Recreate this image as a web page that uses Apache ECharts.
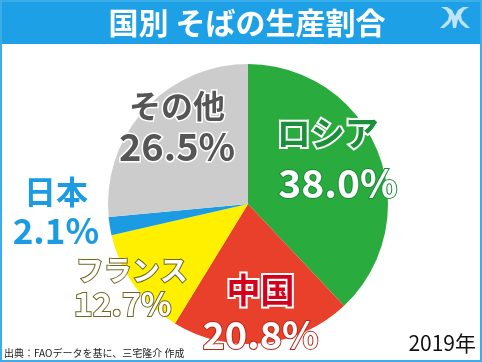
<!DOCTYPE html>
<html><head><meta charset="utf-8">
<script src="https://cdn.jsdelivr.net/npm/echarts@6/dist/echarts.min.js"></script>
<style>html,body{margin:0;padding:0;background:#fff}#c{width:482px;height:362px}</style>
</head><body><div id="c"></div>
<script>
const categories = ['ロシア', '中国', 'フランス', '日本', 'その他'];
const shares = [38.0, 20.8, 12.7, 2.1, 26.5];
const titleText = '国別 そばの生産割合';
const sourceText = '出典：FAOデータを基に、三宅隆介 作成';
const yearText = '2019年';

const FONT = "'Noto Sans CJK JP', sans-serif";
const sliceColors = ['#2aab3e', '#e8402a', '#fff000', '#1b9be2', '#cccccc'];
// per-slice label styling: [nameFill, nameStroke, nameStrokeW, valFill, valStroke, valStrokeW, nameSize, valSize, nameLH, valLH]
const labelLook = [
  ['#1c8f3b', '#ffffff', 4, '#ffffff', '#1a8a3a', 2, 34, 39, 48, 52],
  ['#d7001b', '#ffffff', 4, '#ffffff', '#b8281b', 2, 34, 38, 44, 46],
  ['#ffffff', '#6f6620', 2, '#ffffff', '#6f6620', 2, 28, 32, 32, 34],
  ['#1b9be2', 'transparent', 0, '#1b9be2', 'transparent', 0, 32, 35, 38, 40],
  ['#555555', '#ffffff', 3, '#555555', '#ffffff', 3, 32, 38, 40, 42]
];
const labelShift = [[22, -18], [5, 36], [-66, 41], [-120, -4], [-17, -28]];
// [left, right] padding of the name line, to offset it against the value line
const namePad = [[0, 20], [0, 0], [18, 0], [0, 0], [0, 0]];

const chart = echarts.init(document.getElementById('c'));
chart.setOption({
  animation: false,
  backgroundColor: '#ffffff',
  graphic: [
    { type: 'rect', z: 0, shape: { x: 0, y: 0, width: 482, height: 44 }, style: { fill: '#1ea0e6' } },
    { type: 'rect', z: 100, shape: { x: 1, y: 1, width: 480, height: 360 }, style: { fill: 'none', stroke: '#3aaee8', lineWidth: 2 } },
    { type: 'text', z: 10, x: 247, y: 23, style: { text: titleText, fill: '#ffffff', font: "bold 30px " + FONT, align: 'center', verticalAlign: 'middle' } },
    { type: 'polygon', z: 10, shape: { points: [[441,7],[447,7],[452,10],[455,16],[458,10],[463,7],[469,7],[464,10],[461,15],[462,20],[466,24],[470,28],[466,28],[461,24],[458,19],[456,28],[453,28],[452,19],[449,24],[444,28],[440,28],[444,24],[448,20],[449,15],[446,10]] }, style: { fill: '#bfe4f7' } },
    { type: 'text', z: 10, x: 4, y: 353, style: { text: sourceText, fill: '#222222', font: "10px " + FONT, align: 'left', verticalAlign: 'middle' } },
    { type: 'text', z: 10, x: 476, y: 343, style: { text: yearText, fill: '#111111', font: "21px " + FONT, align: 'right', verticalAlign: 'middle' } }
  ],
  series: [{
    type: 'pie',
    center: [248, 204],
    radius: 140,
    startAngle: 90,
    clockwise: true,
    itemStyle: { borderWidth: 0 },
    labelLine: { show: false },
    emphasis: { disabled: true },
    data: categories.map((n, i) => {
      const L = labelLook[i];
      return {
        name: n,
        value: shares[i],
        itemStyle: { color: sliceColors[i] },
        label: {
          show: true,
          position: 'inside',
          formatter: p => '{n|' + p.name + '}\n{v|' + p.value.toFixed(1) + '%}',
          rich: {
            n: { fontFamily: FONT, fontWeight: 'bold', fontSize: L[6], lineHeight: L[8], color: L[0], textBorderColor: L[1], textBorderWidth: L[2], padding: [0, namePad[i][1], 0, namePad[i][0]] },
            v: { fontFamily: FONT, fontWeight: 'bold', fontSize: L[7], lineHeight: L[9], color: L[3], textBorderColor: L[4], textBorderWidth: L[5] }
          }
        }
      };
    }),
    labelLayout: p => ({ dx: labelShift[p.dataIndex][0], dy: labelShift[p.dataIndex][1] })
  }]
});
</script></body></html>
